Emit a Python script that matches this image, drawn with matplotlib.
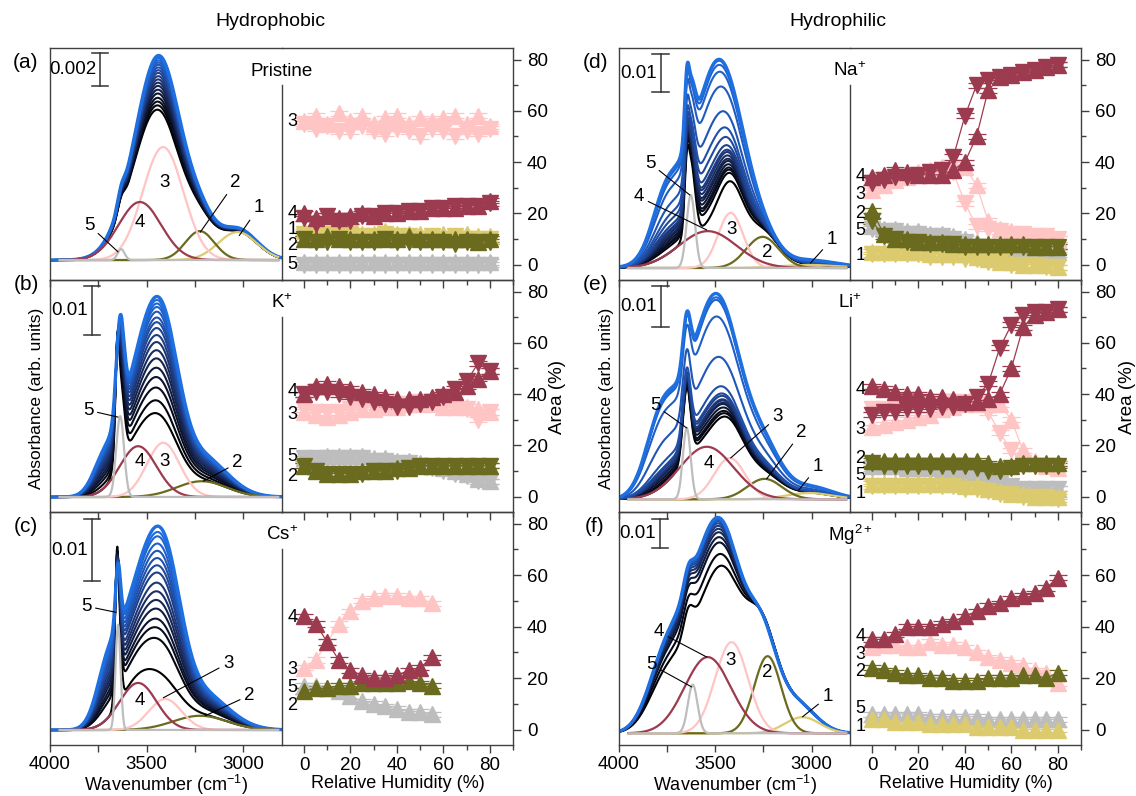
import numpy as np
import matplotlib.pyplot as plt
from matplotlib.colors import LinearSegmentedColormap
from matplotlib.ticker import MultipleLocator

plt.rcParams['font.family'] = ['Liberation Sans', 'DejaVu Sans']
plt.rcParams['mathtext.fontset'] = 'custom'
plt.rcParams['mathtext.rm'] = 'Liberation Sans'
plt.rcParams['mathtext.it'] = 'Liberation Sans:italic'
plt.rcParams['font.size'] = 13.5
plt.rcParams['axes.linewidth'] = 1.0
plt.rcParams['axes.edgecolor'] = '#404040'

# ---------------- data ----------------
rh = [0, 5, 10, 15, 20, 25, 30, 35, 40, 45, 50, 55, 60, 65, 70, 75, 80]
rh_cs = [0, 5, 10, 15, 20, 25, 30, 35, 40, 45, 50, 55]

comp_colors = {1: '#dccb6e', 2: '#6b6b1f', 3: '#ffc4c4', 4: '#9c3b4f', 5: '#bdbdbd'}

# Pristine (a)
pris_fit_id = [1, 2, 3, 4, 5]
pris_fit_c = [3030, 3225, 3415, 3535, 3632]
pris_fit_s = [100, 75, 105, 110, 18]
pris_fit_h = [0.00171, 0.00177, 0.00691, 0.00355, 0.00067]
pris_band_c = [3030, 3225, 3415, 3535, 3632]
pris_band_s = [100, 75, 105, 110, 18]
pris_first = [0.00171, 0.00177, 0.00691, 0.00355, 0.00067]
pris_last = [0.0019, 0.0020, 0.0100, 0.0040, 0.0007]
pris_frac = [0, .08, .15, .22, .3, .37, .44, .5, .56, .62, .68, .73, .78, .83, .87, .91, .95, .98, 1]
pris_area_id = [1, 2, 3, 4, 5]
pris_up = [[13, 13, 12, 13, 12, 12, 12, 13, 12, 12, 12, 11, 12, 11, 12, 11, 11],
           [10, 10, 11, 10, 10, 10, 10, 10, 10, 11, 10, 10, 10, 10, 10, 9, 10],
           [56, 58, 55, 59, 56, 58, 55, 57, 58, 55, 57, 56, 57, 58, 55, 58, 54],
           [20, 18, 19, 18, 19, 20, 19, 20, 20, 21, 21, 22, 22, 22, 23, 23, 25],
           [1, 1, 1, 1, 1, 1, 1, 1, 1, 1, 1, 1, 1, 1, 1, 1, 1]]
pris_dn = [[12, 12, 12, 12, 12, 11, 11, 12, 11, 11, 10, 11, 10, 11, 10, 10, 10],
           [10, 9, 9, 10, 9, 9, 9, 10, 9, 9, 9, 9, 9, 8, 9, 9, 9],
           [55, 53, 54, 52, 52, 54, 52, 51, 53, 52, 50, 53, 52, 50, 52, 51, 53],
           [18, 16, 19, 17, 17, 19, 19, 20, 20, 21, 21, 22, 22, 23, 23, 23, 24],
           [0, 0, 0, 0, 0, 0, 0, 0, 0, 0, 0, 0, 0, 0, 0, 0, 0]]

# K+ (b)
k_fit_id = [2, 3, 4, 5]
k_fit_c = [3215, 3414, 3544, 3637]
k_fit_s = [130, 85, 95, 20]
k_fit_h = [0.0032, 0.011, 0.0103, 0.0164]
k_band_c = [3215, 3414, 3544, 3637, 3652, 3720]
k_band_s = [130, 85, 95, 20, 9, 60]
k_first = [0.0032, 0.011, 0.0103, 0.0164, 0.015, 0.0]
k_last = [0.008, 0.028, 0.022, 0.020, 0.0, 0.006]
k_frac = [0, .11, .22, .31, .39, .47, .54, .61, .67, .73, .78, .82, .87, .91, .94, .97, 1]
k_area_id = [2, 3, 4, 5]
k_up = [[12, 10, 9, 9, 9, 10, 10, 10, 11, 11, 12, 12, 12, 12, 12, 12, 12],
        [33, 32, 31, 32, 33, 34, 34, 35, 35, 36, 36, 36, 35, 35, 35, 34, 33],
        [40, 43, 44, 43, 42, 41, 40, 39, 38, 38, 38, 39, 40, 41, 43, 46, 49],
        [15, 15, 16, 16, 16, 16, 15, 15, 14, 14, 13, 12, 11, 10, 9, 7, 6]]
k_dn = [[12, 10, 9, 9, 9, 9, 10, 10, 10, 11, 12, 12, 12, 12, 12, 12, 12],
        [34, 33, 33, 33, 34, 35, 35, 36, 36, 36, 37, 37, 36, 35, 34, 30, 33],
        [40, 41, 41, 40, 39, 38, 37, 36, 35, 35, 36, 37, 39, 42, 45, 52, 49],
        [15, 15, 15, 15, 15, 15, 14, 14, 13, 13, 12, 11, 10, 9, 8, 6, 6]]

# Cs+ (c)
cs_fit_id = [2, 3, 4, 5]
cs_fit_c = [3223, 3404, 3544, 3648]
cs_fit_s = [140, 85, 95, 13]
cs_fit_h = [0.0023, 0.005, 0.0076, 0.017]
cs_band_c = [3223, 3404, 3544, 3648, 3655, 3700]
cs_band_s = [140, 85, 95, 13, 8, 60]
cs_first = [0.0023, 0.005, 0.0076, 0.017, 0.010, 0.0]
cs_last = [0.006, 0.022, 0.020, 0.010, 0.0, 0.008]
cs_frac = [0, .225, .3, .36, .43, .49, .55, .61, .68, .73, .78, .83, .88, .93, .96, 1]
cs_area_id = [2, 3, 4, 5]
cs_up = [[15, 16, 16, 17, 17, 18, 18, 18, 18, 19, 18, 17],
         [24, 27, 34, 41, 46, 50, 51, 52, 52, 51, 51, 49],
         [44, 41, 34, 27, 23, 21, 20, 20, 21, 23, 24, 28],
         [17, 17, 16, 15, 13, 11, 10, 9, 8, 7, 7, 6]]

# Na+ (d)
na_fit_id = [1, 2, 3, 4, 5]
na_fit_c = [3010, 3254, 3420, 3539, 3627]
na_fit_s = [150, 85, 65, 150, 22]
na_fit_h = [0.0008, 0.0082, 0.0145, 0.0097, 0.0192]
na_band_c = [3010, 3254, 3420, 3539, 3627, 3648, 3760, 3450]
na_band_s = [150, 85, 65, 150, 22, 11, 70, 110]
na_first = [0.0008, 0.0082, 0.0145, 0.0097, 0.0192, 0.011, 0.0, 0.0]
na_last = [0.002, 0.005, 0.0, 0.030, 0.014, 0.012, 0.012, 0.028]
na_frac = [0, .08, .11, .13, .16, .19, .21, .24, .27, .29, .33, .4, .48, .61, .8, .91, .96, .99, 1]
na_area_id = [1, 2, 3, 4, 5]
na_up = [[5, 5, 5, 5, 5, 4, 4, 4, 4, 3, 2, 1, 1, 0, 0, 0, -1],
         [21, 12, 10, 10, 9, 9, 9, 8, 8, 8, 8, 8, 8, 8, 7, 7, 7],
         [29, 31, 33, 34, 36, 37, 38, 39, 38, 31, 17, 14, 13, 12, 11, 11, 10],
         [34, 35, 37, 36, 35, 35, 35, 37, 40, 50, 68, 73, 74, 75, 76, 77, 78],
         [15, 14, 14, 13, 13, 12, 12, 11, 10, 9, 6, 5, 5, 5, 5, 5, 5]]
na_dn = [[4, 4, 4, 4, 4, 3, 3, 3, 2, 2, 1, 1, 0, 0, 0, -1, -1],
         [17, 11, 10, 9, 9, 8, 8, 8, 7, 7, 7, 7, 7, 7, 7, 7, 7],
         [30, 31, 33, 34, 35, 36, 37, 36, 24, 15, 14, 13, 12, 12, 11, 11, 10],
         [32, 33, 34, 34, 35, 36, 37, 42, 58, 70, 72, 73, 74, 75, 76, 77, 78],
         [14, 13, 13, 12, 12, 11, 11, 10, 9, 7, 5, 5, 4, 4, 4, 4, 4]]

# Li+ (e)
li_fit_id = [1, 2, 3, 4, 5]
li_fit_c = [3010, 3244, 3425, 3544, 3648]
li_fit_s = [120, 90, 80, 140, 20]
li_fit_h = [0.0015, 0.0049, 0.0099, 0.0126, 0.0171]
li_band_c = [3010, 3244, 3425, 3544, 3648, 3780, 3460]
li_band_s = [120, 90, 80, 140, 20, 80, 110]
li_first = [0.0015, 0.0049, 0.0099, 0.0126, 0.0171, 0.0, 0.0]
li_last = [0.003, 0.010, 0.0, 0.030, 0.013, 0.016, 0.022]
li_frac = [0, .03, .05, .08, .11, .12, .14, .15, .18, .2, .26, .5, .82, .95, .97, 1]
li_area_id = [1, 2, 3, 4, 5]
li_up = [[5, 5, 5, 5, 5, 5, 5, 5, 4, 4, 3, 2, 1, 1, 0, 0, 0],
         [14, 14, 14, 14, 14, 14, 14, 14, 14, 14, 13, 12, 12, 13, 13, 13, 13],
         [27, 28, 29, 30, 31, 32, 34, 35, 36, 36, 36, 36, 30, 18, 14, 12, 11],
         [43, 42, 41, 40, 40, 39, 39, 38, 37, 37, 38, 40, 50, 66, 71, 72, 73],
         [12, 12, 12, 11, 11, 11, 10, 10, 9, 8, 7, 5, 4, 3, 3, 3, 3]]
li_dn = [[4, 4, 4, 4, 4, 4, 4, 4, 3, 3, 2, 1, 1, 0, 0, 0, -1],
         [13, 12, 12, 12, 12, 12, 12, 12, 12, 11, 10, 10, 11, 12, 12, 12, 12],
         [34, 34, 35, 35, 35, 36, 36, 37, 37, 36, 33, 25, 18, 13, 12, 12, 11],
         [32, 33, 33, 34, 34, 34, 35, 35, 36, 39, 44, 58, 67, 71, 72, 72, 73],
         [11, 11, 11, 10, 10, 10, 10, 9, 9, 8, 6, 5, 4, 3, 3, 3, 3]]

# Mg2+ (f)
mg_fit_id = [1, 2, 3, 4, 5]
mg_fit_c = [3047, 3228, 3415, 3539, 3617]
mg_fit_s = [90, 70, 85, 120, 25]
mg_fit_h = [0.0055, 0.0263, 0.0311, 0.026, 0.0166]
mg_band_c = [3080, 3260, 3430, 3560, 3640, 3760]
mg_band_s = [100, 80, 90, 110, 25, 90]
mg_first = [0.010, 0.033, 0.035, 0.034, 0.008, 0.016]
mg_last = [0.010, 0.0315, 0.040, 0.050, 0.007, 0.0229]
mg_frac = [0, .25, .49, .6, .7, .77, .83, .88, .92, .95, .97, .99, 1]
mg_area_id = [1, 2, 3, 4, 5]
mg_up = [[4, 4, 3, 3, 3, 2, 2, 2, 2, 1, 1, 1, 1, 0, 0, 0, 0],
         [24, 23, 22, 21, 21, 20, 20, 19, 19, 19, 20, 20, 20, 21, 21, 20, 22],
         [32, 33, 33, 32, 32, 34, 33, 33, 32, 30, 28, 27, 26, 25, 23, 22, 18],
         [35, 35, 37, 40, 40, 40, 41, 42, 44, 46, 48, 49, 51, 52, 53, 55, 59],
         [6, 6, 6, 6, 6, 5, 5, 5, 5, 5, 4, 4, 4, 4, 4, 4, 4]]

# ---------------- layout (pixels of the 1136x796 canvas) ----------------
W, H = 1136, 796
COLS = [(50, 282, 513), (619, 850, 1081)]
ROWS = [(48, 280), (280, 512), (512, 745)]
TAG_DY = [15, 4, 14]

panels = [
    dict(tag='(a)', name='Pristine', col=0, row=0, ylim=(-0.00122, 0.01297),
         bar=(3741, 0.01066, 0.01266, '0.002'),
         fit=(pris_fit_id, pris_fit_c, pris_fit_s, pris_fit_h),
         fam=(pris_band_c, pris_band_s, pris_first, pris_last, pris_frac),
         area=(rh, pris_area_id, pris_up, pris_dn),
         slab=[('3', 3409, 0.00477, None), ('4', 3534, 0.00232, None),
               ('5', 3798, 0.00214, (3648, 0.0005)), ('2', 3041, 0.00477, (3223, 0.0017)),
               ('1', 2922, 0.0032, (3021, 0.0015))],
         alab=[('3', 56), ('4', 20), ('1', 13.7), ('2', 7.4), ('5', 0)]),
    dict(tag='(b)', name='K$^{+}$', col=0, row=1, ylim=(-0.00304, 0.0440),
         bar=(3782, 0.03285, 0.04285, '0.01'),
         fit=(k_fit_id, k_fit_c, k_fit_s, k_fit_h),
         fam=(k_band_c, k_band_s, k_first, k_last, k_frac),
         area=(rh, k_area_id, k_up, k_dn),
         slab=[('5', 3803, 0.0176, (3648, 0.0162)), ('4', 3534, 0.0073, None),
               ('3', 3409, 0.0073, None), ('2', 3031, 0.0069, (3207, 0.0032))],
         alab=[('4', 41), ('3', 32), ('5', 15.5), ('2', 8)]),
    dict(tag='(c)', name='Cs$^{+}$', col=0, row=2, ylim=(-0.00242, 0.0352),
         bar=(3782, 0.0240, 0.0340, '0.01'),
         fit=(cs_fit_id, cs_fit_c, cs_fit_s, cs_fit_h),
         fam=(cs_band_c, cs_band_s, cs_first, cs_last, cs_frac),
         area=(rh_cs, cs_area_id, cs_up, None),
         slab=[('5', 3813, 0.020, (3658, 0.019)), ('4', 3534, 0.0048, None),
               ('3', 3078, 0.0108, (3414, 0.0052)), ('2', 2969, 0.0056, (3197, 0.0023))],
         alab=[('4', 43.5), ('3', 23.5), ('5', 16.5), ('2', 9.5)]),
    dict(tag='(d)', name='Na$^{+}$', col=1, row=0, ylim=(-0.00316, 0.0579),
         bar=(3784, 0.04625, 0.05625, '0.01'),
         fit=(na_fit_id, na_fit_c, na_fit_s, na_fit_h),
         fam=(na_band_c, na_band_s, na_first, na_last, na_frac),
         area=(rh, na_area_id, na_up, na_dn),
         slab=[('5', 3839, 0.0276, (3632, 0.0192)), ('4', 3896, 0.0187, (3544, 0.0100)),
               ('3', 3415, 0.0100, None), ('2', 3228, 0.0042, None),
               ('1', 2896, 0.0074, (3005, 0.0013))],
         alab=[('4', 34.5), ('3', 27.5), ('2', 20), ('5', 13.5), ('1', 3.5)]),
    dict(tag='(e)', name='Li$^{+}$', col=1, row=1, ylim=(-0.00305, 0.0526),
         bar=(3784, 0.04122, 0.05122, '0.01'),
         fit=(li_fit_id, li_fit_c, li_fit_s, li_fit_h),
         fam=(li_band_c, li_band_s, li_first, li_last, li_frac),
         area=(rh, li_area_id, li_up, li_dn),
         slab=[('5', 3813, 0.0226, (3648, 0.0171)), ('4', 3534, 0.0087, None),
               ('3', 3176, 0.0198, (3420, 0.0099)), ('2', 3052, 0.0161, (3233, 0.0049)),
               ('1', 2969, 0.0078, (3067, 0.0022))],
         alab=[('4', 41.7), ('3', 26), ('2', 15), ('5', 8.4), ('1', 1.4)]),
    dict(tag='(f)', name='Mg$^{2+}$', col=1, row=2, ylim=(-0.0040, 0.0755),
         bar=(3788, 0.06314, 0.07314, '0.01'),
         fit=(mg_fit_id, mg_fit_c, mg_fit_s, mg_fit_h),
         fam=(mg_band_c, mg_band_s, mg_first, mg_last, mg_frac),
         area=(rh, mg_area_id, mg_up, None),
         slab=[('4', 3793, 0.0346, (3544, 0.026)), ('5', 3829, 0.0233, (3622, 0.0158)),
               ('3', 3420, 0.025, None), ('2', 3228, 0.0206, None),
               ('1', 2917, 0.0124, (3047, 0.0056))],
         alab=[('4', 36), ('3', 29.3), ('2', 22.5), ('5', 8), ('1', 1.2)]),
]

cmap = LinearSegmentedColormap.from_list(
    'rh', ['#000000', '#0c1430', '#1b2f66', '#20489a', '#1f5fc8', '#1e6fe0'])
wn = np.linspace(2800, 4000, 1201)
wn_c = np.linspace(2820, 3950, 1000)


def gauss_sum(x, cs, ss, hs):
    y = np.zeros_like(x)
    for c, s, h in zip(cs, ss, hs):
        y += h * np.exp(-(x - c) ** 2 / (2 * s ** 2))
    return y


fig = plt.figure(figsize=(W / 100, H / 100), dpi=100)

for p in panels:
    x0, x1, x2 = COLS[p['col']]
    yt, yb = ROWS[p['row']]
    hh = (yb - yt) / H
    bottom_row = p['row'] == 2
    ax_s = fig.add_axes([x0 / W, 1 - yb / H, (x1 - x0) / W, hh])
    ax_a = fig.add_axes([x1 / W, 1 - yb / H, (x2 - x1) / W, hh])
    for ax in (ax_s, ax_a):
        ax.patch.set_visible(False)

    # ---- spectra ----
    bc, bs, hf, hl, fr = p['fam']
    n = len(fr)
    for i, f in enumerate(fr):
        hs = [a + f * (b - a) for a, b in zip(hf, hl)]
        ax_s.plot(wn, gauss_sum(wn, bc, bs, hs), color=cmap(i / (n - 1)),
                  lw=2.4 if i == n - 1 else 1.5, zorder=2)
    ids, cc, ss, hts = p['fit']
    for cid, c, s, h in zip(ids, cc, ss, hts):
        ax_s.plot(wn_c, h * np.exp(-(wn_c - c) ** 2 / (2 * s ** 2)),
                  color=comp_colors[cid], lw=1.6, zorder=3)
    for txt, tx, ty, tip in p['slab']:
        if tip is None:
            ax_s.text(tx, ty, txt, ha='center', va='center', fontsize=13.5, zorder=5)
        else:
            ax_s.annotate(txt, xy=tip, xytext=(tx, ty), ha='center', va='center',
                          fontsize=13.5,
                          arrowprops=dict(arrowstyle='-', color='k', lw=0.8,
                                          shrinkA=1, shrinkB=0), zorder=5)
    bx, b0, b1, btxt = p['bar']
    ax_s.plot([bx, bx], [b0, b1], color='#333333', lw=1.1)
    for yy in (b0, b1):
        ax_s.plot([bx + 42, bx - 42], [yy, yy], color='#333333', lw=1.1)
    ax_s.text(bx + 20, (b0 + b1) / 2, btxt, ha='right', va='center', fontsize=13.5)

    ax_s.set_xlim(4000, 2800)
    ax_s.set_ylim(*p['ylim'])
    ax_s.spines['right'].set_visible(False)
    ax_s.set_yticks([])
    ax_s.xaxis.set_major_locator(MultipleLocator(500))
    ax_s.xaxis.set_minor_locator(MultipleLocator(250))
    ax_s.tick_params(axis='x', which='both', direction='out', top=False,
                     length=5, width=1, color='#404040', labelsize=13.5, pad=3,
                     labelbottom=bottom_row)
    if bottom_row:
        ax_s.set_xlabel('Wavenumber (cm$^{-1}$)', fontsize=13, labelpad=0)

    # ---- areas ----
    rhs, aid, up, dn = p['area']
    for cid in [5, 1, 3, 2, 4]:
        if cid not in aid:
            continue
        k = aid.index(cid)
        col = comp_colors[cid]
        sets = [(up[k], '^')]
        if dn is not None:
            sets.append((dn[k], 'v'))
        for vals, mk in sets:
            ax_a.errorbar(rhs, vals, yerr=1.0, fmt='-' + mk, color=col, mfc=col,
                          mec=col, ms=11, lw=0.9, elinewidth=0.9, capsize=6.5,
                          capthick=0.9, zorder=3)
    for txt, ty in p['alab']:
        ax_a.text(-5, ty, txt, ha='center', va='center', fontsize=13)

    ax_a.set_xlim(-9.5, 90)
    ax_a.set_ylim(-6, 84.5)
    ax_a.spines['left'].set_bounds(-6, 70)
    ax_a.xaxis.set_major_locator(MultipleLocator(20))
    ax_a.xaxis.set_minor_locator(MultipleLocator(10))
    ax_a.yaxis.set_major_locator(MultipleLocator(20))
    ax_a.yaxis.set_minor_locator(MultipleLocator(10))
    ax_a.tick_params(axis='both', which='both', direction='out', color='#404040',
                     width=1, labelsize=13.5)
    ax_a.tick_params(axis='both', which='major', length=6)
    ax_a.tick_params(axis='both', which='minor', length=3.5)
    ax_a.tick_params(axis='y', which='both', left=False, right=True,
                     labelleft=False, labelright=True, pad=4)
    ax_a.tick_params(axis='x', which='both', top=False, labelbottom=bottom_row, pad=3)
    if bottom_row:
        ax_a.set_xlabel('Relative Humidity (%)', fontsize=13, labelpad=0)

    fig.text(x1 / W, 1 - (yt + 23) / H, p['name'], ha='center', va='center', fontsize=13.5)
    fig.text((x0 - 24) / W, 1 - (yt + TAG_DY[p['row']]) / H, p['tag'],
             ha='center', va='center', fontsize=15)

fig.text(270 / W, 1 - 22 / H, 'Hydrophobic', ha='center', va='center', fontsize=14)
fig.text(838 / W, 1 - 22 / H, 'Hydrophilic', ha='center', va='center', fontsize=14)
fig.text(37 / W, 1 - 398 / H, 'Absorbance (arb. units)', rotation=90,
         ha='center', va='center', fontsize=12.5)
fig.text(606 / W, 1 - 398 / H, 'Absorbance (arb. units)', rotation=90,
         ha='center', va='center', fontsize=12.5)
fig.text(557 / W, 1 - 397 / H, 'Area (%)', rotation=90, ha='center', va='center',
         fontsize=13.5)
fig.text(1127 / W, 1 - 397 / H, 'Area (%)', rotation=90, ha='center', va='center',
         fontsize=13.5)

fig.savefig('out.png', dpi=100)
